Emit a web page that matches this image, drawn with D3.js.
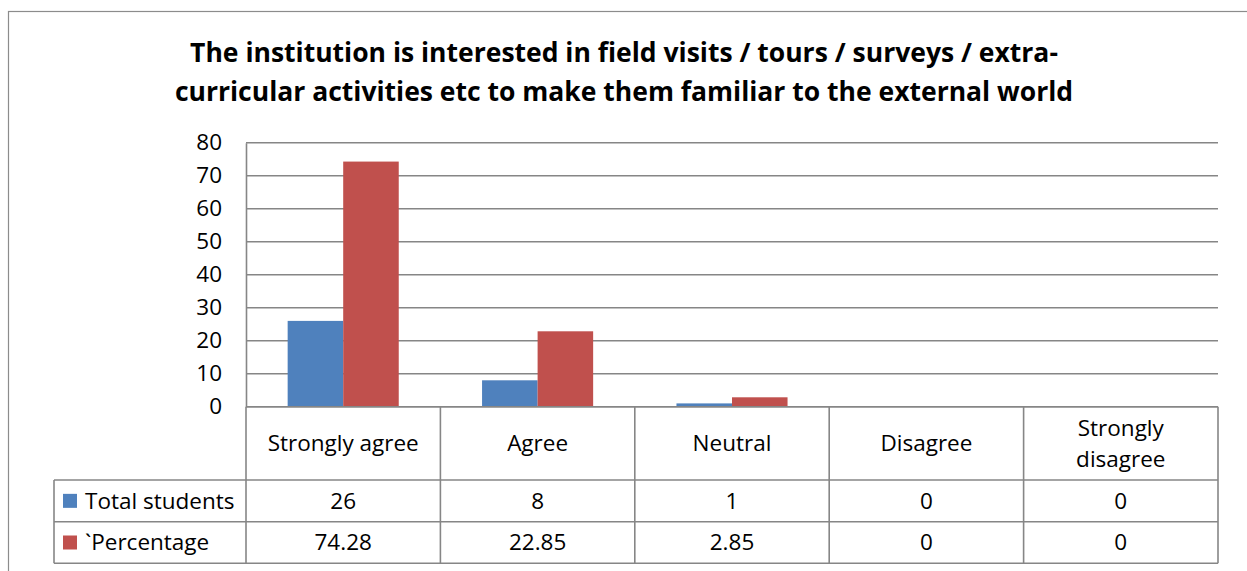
<!DOCTYPE html>
<html><head><meta charset="utf-8">
<script src="https://cdn.jsdelivr.net/npm/d3@7"></script>
<style>
html,body{margin:0;padding:0;background:#fff;}
svg text{font-family:"Open Sans","Lato",sans-serif;fill:#000;}
</style></head>
<body><svg id="chart" width="1247" height="571"></svg>
<script>
const categories = ["Strongly agree","Agree","Neutral","Disagree","Strongly disagree"];
const seriesNames = ["Total students","`Percentage"];
const totalStudents = [26,8,1,0,0];
const percentage = [74.28,22.85,2.85,0,0];
const tableLabels1 = ["26","8","1","0","0"];
const tableLabels2 = ["74.28","22.85","2.85","0","0"];
const yTicks = [0,10,20,30,40,50,60,70,80];
const titleLines = ["The institution is interested in field visits / tours / surveys / extra-",
                    "curricular activities etc to make them familiar to the external world"];
const colors = ["#4F81BD","#C0504D"];

const svg = d3.select("#chart");
const L = 246, R = 1218, T = 142.7, B = 406.7;
const rowY = [B, 480, 521.7, 563.3];
const tableLeft = 54;
const grid = "#868686";
const fs = 22.5;

// outer border
svg.append("rect").attr("x",8.5).attr("y",11.5).attr("width",1260).attr("height",600)
  .attr("fill","none").attr("stroke","#8c8c8c").attr("stroke-width",1.2);

// title
const title = svg.append("text").attr("text-anchor","middle").attr("font-weight","bold")
  .attr("font-size",26.5);
titleLines.forEach((t,i)=>{
  title.append("tspan").attr("x",624).attr("y",62+i*38.5).text(t);
});

const x = d3.scaleBand().domain(categories).range([L,R]).paddingInner(0).paddingOuter(0);
const xs = d3.scaleBand().domain([0,1]).range([0,x.bandwidth()]).paddingInner(0).paddingOuter(0.75);
const y = d3.scaleLinear().domain([0,80]).range([B,T]);

// gridlines
svg.append("g").selectAll("line").data(yTicks).join("line")
  .attr("x1",L).attr("x2",R).attr("y1",d=>y(d)).attr("y2",d=>y(d))
  .attr("stroke",grid).attr("stroke-width",1.6);

// y axis
const yAxis = d3.axisLeft(y).tickValues(yTicks).tickSize(0).tickPadding(24);
const gy = svg.append("g").attr("transform",`translate(${L},0)`).call(yAxis);
gy.select(".domain").attr("stroke",grid).attr("stroke-width",1.6);
gy.selectAll("text").attr("font-size",fs).attr("font-family","'Open Sans',sans-serif").attr("fill","#000");

// bars
const series = [totalStudents, percentage];
series.forEach((vals,si)=>{
  svg.append("g").selectAll("rect").data(categories).join("rect")
    .attr("x",(c)=>x(c)+xs(si))
    .attr("width",xs.bandwidth())
    .attr("y",(c,i)=>y(vals[i]))
    .attr("height",(c,i)=>B-y(vals[i]))
    .attr("fill",colors[si]);
});

// table lines
const tg = svg.append("g").attr("stroke",grid).attr("stroke-width",1.6);
tg.append("line").attr("x1",L).attr("x2",R).attr("y1",B).attr("y2",B);
[rowY[1],rowY[2],rowY[3]].forEach(yy=>{
  tg.append("line").attr("x1",tableLeft).attr("x2",R).attr("y1",yy).attr("y2",yy);
});
categories.forEach(c=>{
  tg.append("line").attr("x1",x(c)).attr("x2",x(c)).attr("y1",B).attr("y2",rowY[3]);
});
tg.append("line").attr("x1",R).attr("x2",R).attr("y1",B).attr("y2",rowY[3]);
tg.append("line").attr("x1",tableLeft).attr("x2",tableLeft).attr("y1",rowY[1]).attr("y2",rowY[3]);

// category labels
categories.forEach(c=>{
  const cx = x(c)+x.bandwidth()/2;
  const words = c==="Strongly disagree" ? ["Strongly","disagree"] : [c];
  const cy = (rowY[0]+rowY[1])/2;
  words.forEach((w,i)=>{
    svg.append("text").attr("x",cx).attr("y",cy+ (i-(words.length-1)/2)*31).attr("dy","0.35em")
      .attr("text-anchor","middle").attr("font-size",fs).text(w);
  });
});

// table values
const tableRows = [tableLabels1, tableLabels2];
tableRows.forEach((row,ri)=>{
  const cy = (rowY[ri+1]+rowY[ri+2])/2;
  svg.append("g").selectAll("text").data(categories).join("text")
    .attr("x",c=>x(c)+x.bandwidth()/2).attr("y",cy).attr("dy","0.35em")
    .attr("text-anchor","middle").attr("font-size",fs).text((c,i)=>row[i]);
  svg.append("rect").attr("x",63).attr("y",cy-7).attr("width",14).attr("height",14).attr("fill",colors[ri]);
  svg.append("text").attr("x",85).attr("y",cy).attr("dy","0.35em").attr("font-size",fs).text(seriesNames[ri]);
});
</script></body></html>
